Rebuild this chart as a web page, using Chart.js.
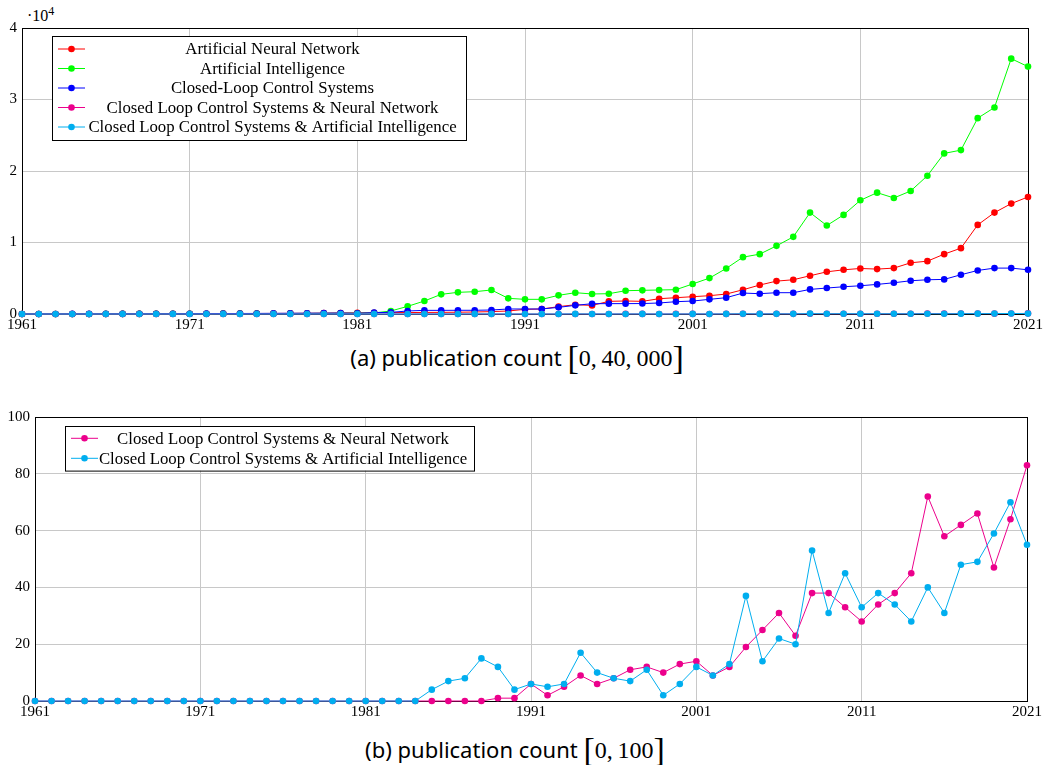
<!DOCTYPE html>
<html>
<head>
<meta charset="utf-8">
<script src="https://cdn.jsdelivr.net/npm/chart.js@4.4.1/dist/chart.umd.min.js"></script>
<style>
	body { margin: 0; background: #fff; width: 1057px; height: 765px; position: relative; overflow: hidden; }
	canvas { position: absolute; left: 0; }
	.cap { position: absolute; left: 0; width: 1057px; box-sizing: border-box; text-align: center; font-family: "Noto Sans", "DejaVu Sans", sans-serif; font-size: 22px; color: #000; line-height: 30px; }
	.math { font-family: "Liberation Serif", serif; font-size: 24px; }
	.br { font-family: "Liberation Serif", serif; font-size: 34px; vertical-align: -3px; }
	#mult { position: absolute; left: 27px; top: 4px; font-family: "Liberation Serif", serif; font-size: 16px; }
</style>
</head>
<body>
<div id="mult">·10<sup style="font-size:12px">4</sup></div>
<canvas id="topChart" width="1057" height="335" style="top:0"></canvas>
<div class="cap" style="top:342px; padding-right:23px">(a) publication count <span class="br">[</span><span class="math">0,&#8201;40,&#8201;000</span><span class="br">]</span></div>
<canvas id="bottomChart" width="1057" height="326" style="top:395px"></canvas>
<div class="cap" style="top:734px; padding-right:27px">(b) publication count <span class="br">[</span><span class="math">0,&#8201;100</span><span class="br">]</span></div>
<script>
// years on the x axis
const years = [];
for (let y = 1961; y <= 2021; y++) years.push(y);
const yearTicks = [1961, 1971, 1981, 1991, 2001, 2011, 2021];

// publication counts
const annCounts = [
	5, 5, 5, 10, 10, 10, 15, 15, 20, 25,
	30, 40, 50, 60, 70, 80, 90, 100, 120, 140,
	160, 180, 200, 200, 220, 230, 250, 280, 330, 420,
	650, 700, 1030, 1300, 1200, 1770, 1820, 1770, 2140, 2280,
	2420, 2560, 2790, 3390, 4050, 4600, 4790, 5350, 5900, 6180,
	6370, 6280, 6420, 7160, 7390, 8370, 9210, 12460, 14180, 15440,
	16370,
];
const aiCounts = [
	10, 10, 10, 10, 10, 20, 20, 20, 30, 30,
	40, 40, 50, 50, 60, 60, 70, 80, 90, 100,
	110, 150, 420, 1070, 1820, 2750, 3030, 3120, 3360, 2190,
	2050, 2050, 2610, 2980, 2800, 2840, 3260, 3310, 3360, 3400,
	4200, 5020, 6370, 7950, 8370, 9530, 10790, 14180, 12370, 13860,
	15900, 16970, 16230, 17200, 19340, 22460, 22920, 27390, 28880, 35710,
	34600,
];
const clcsCounts = [
	10, 10, 10, 15, 15, 20, 20, 25, 30, 30,
	40, 50, 60, 70, 80, 90, 100, 110, 120, 130,
	100, 190, 230, 420, 510, 510, 520, 520, 560, 700,
	700, 700, 930, 1210, 1440, 1450, 1450, 1460, 1540, 1720,
	1810, 2050, 2280, 2930, 2840, 2980, 2980, 3440, 3630, 3810,
	3950, 4140, 4370, 4650, 4790, 4840, 5490, 6090, 6420, 6420,
	6180,
];
const clcsNnCounts = [
	0, 0, 0, 0, 0, 0, 0, 0, 0, 0,
	0, 0, 0, 0, 0, 0, 0, 0, 0, 0,
	0, 0, 0, 0, 0, 0, 0, 0, 1, 1,
	6, 2, 5, 9, 6, 8, 11, 12, 10, 13,
	14, 9, 12, 19, 25, 31, 23, 38, 38, 33,
	28, 34, 38, 45, 72, 58, 62, 66, 47, 64,
	83,
];
const clcsAiCounts = [
	0, 0, 0, 0, 0, 0, 0, 0, 0, 0,
	0, 0, 0, 0, 0, 0, 0, 0, 0, 0,
	0, 0, 0, 0, 4, 7, 8, 15, 12, 4,
	6, 5, 6, 17, 10, 8, 7, 11, 2, 6,
	12, 9, 13, 37, 14, 22, 20, 53, 31, 45,
	33, 38, 34, 28, 40, 31, 48, 49, 59, 70,
	55,
];

const serif = '"Liberation Serif", "DejaVu Serif", serif';

function makeSeries(label, counts, color, order) {
	return {
		label: label,
		data: years.map((y, i) => ({ x: y, y: counts[i] })),
		borderColor: color,
		backgroundColor: color,
		borderWidth: 1,
		pointRadius: 3.3,
		pointHoverRadius: 3.3,
		pointBorderWidth: 0,
		tension: 0,
		clip: false,
		order: order,
	};
}

// black box round the plot area
const frameBox = {
	id: "frameBox",
	beforeDatasetsDraw(chart) {
		const a = chart.chartArea;
		const ctx = chart.ctx;
		ctx.save();
		ctx.strokeStyle = "#000";
		ctx.lineWidth = 1;
		ctx.strokeRect(Math.round(a.left) + 0.5, Math.round(a.top) + 0.5, Math.round(a.right - a.left), Math.round(a.bottom - a.top));
		ctx.restore();
	},
};

// legend box drawn inside the plot, like pgfplots
const boxLegend = {
	id: "boxLegend",
	afterDatasetsDraw(chart, args, opts) {
		const ctx = chart.ctx;
		const sets = chart.data.datasets;
		const h = opts.pad * 2 + sets.length * opts.rowH;
		ctx.save();
		ctx.fillStyle = "#fff";
		ctx.fillRect(opts.left, opts.top, opts.width, h);
		ctx.strokeStyle = "#000";
		ctx.lineWidth = 1;
		ctx.strokeRect(opts.left + 0.5, opts.top + 0.5, opts.width, h);
		ctx.font = opts.fontSize + "px " + serif;
		ctx.textAlign = "center";
		ctx.textBaseline = "middle";
		const sx0 = opts.left + 6;
		const sx1 = opts.left + 33;
		const textX = sx1 + (opts.left + opts.width - sx1) / 2 - 3;
		sets.forEach((ds, i) => {
			const y = opts.top + opts.pad + opts.rowH * (i + 0.5);
			ctx.strokeStyle = ds.borderColor;
			ctx.beginPath();
			ctx.moveTo(sx0, y);
			ctx.lineTo(sx1, y);
			ctx.stroke();
			ctx.fillStyle = ds.borderColor;
			ctx.beginPath();
			ctx.arc((sx0 + sx1) / 2, y, 3.3, 0, Math.PI * 2);
			ctx.fill();
			ctx.fillStyle = "#000";
			ctx.fillText(ds.label, textX, y + 1);
		});
		ctx.restore();
	},
};

function makeOptions(yMax, yStep, yWidth, xHeight, padTop, padRight, legend, yFormat) {
	return {
		responsive: false,
		animation: false,
		events: [],
		layout: { padding: { top: padTop, right: padRight, left: 0, bottom: 0 } },
		plugins: {
			legend: { display: false },
			tooltip: { enabled: false },
			boxLegend: legend,
		},
		scales: {
			x: {
				type: "linear",
				min: 1961,
				max: 2021,
				afterBuildTicks: (axis) => {
					axis.ticks = yearTicks.map((v) => ({ value: v }));
				},
				afterFit: (axis) => {
					axis.height = xHeight;
				},
				grid: { color: "#c8c8c8", drawTicks: false },
				border: { display: false },
				ticks: {
					padding: 2,
					color: "#000",
					maxRotation: 0,
					font: { family: serif, size: 15 },
					callback: (v) => String(v),
				},
			},
			y: {
				min: 0,
				max: yMax,
				afterFit: (axis) => {
					axis.width = yWidth;
				},
				grid: { color: "#c8c8c8", drawTicks: false },
				border: { display: false },
				ticks: {
					stepSize: yStep,
					padding: 5,
					color: "#000",
					font: { family: serif, size: 15 },
					callback: yFormat,
				},
			},
		},
	};
}

new Chart(document.getElementById("topChart").getContext("2d"), {
	type: "line",
	data: {
		datasets: [
			makeSeries("Artificial Neural Network", annCounts, "#ff0000", 5),
			makeSeries("Artificial Intelligence", aiCounts, "#00ff00", 4),
			makeSeries("Closed-Loop Control Systems", clcsCounts, "#0000ff", 3),
			makeSeries("Closed Loop Control Systems & Neural Network", clcsNnCounts, "#ec008c", 2),
			makeSeries("Closed Loop Control Systems & Artificial Intelligence", clcsAiCounts, "#00aeef", 1),
		],
	},
	options: makeOptions(40000, 10000, 22, 21, 28, 29,
		{ left: 52, top: 36, width: 414, rowH: 19.5, pad: 3.25, fontSize: 16.8 },
		(v) => String(v / 10000)),
	plugins: [frameBox, boxLegend],
});

new Chart(document.getElementById("bottomChart").getContext("2d"), {
	type: "line",
	data: {
		datasets: [
			makeSeries("Closed Loop Control Systems & Neural Network", clcsNnCounts, "#ec008c", 2),
			makeSeries("Closed Loop Control Systems & Artificial Intelligence", clcsAiCounts, "#00aeef", 1),
		],
	},
	options: makeOptions(100, 20, 35, 20, 22, 30,
		{ left: 65, top: 31, width: 409, rowH: 20, pad: 2.3, fontSize: 16.8 },
		(v) => String(v)),
	plugins: [frameBox, boxLegend],
});
</script>
</body>
</html>
